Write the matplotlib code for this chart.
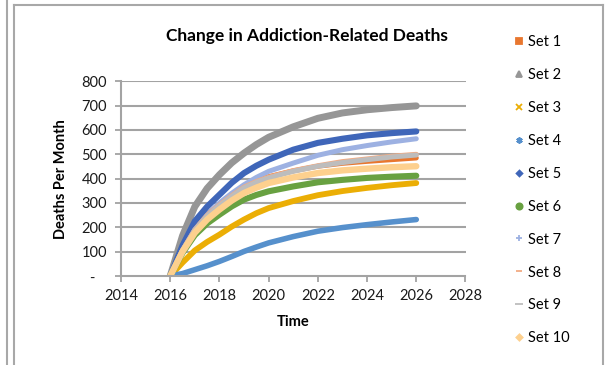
import matplotlib
matplotlib.use("Agg")
import matplotlib.pyplot as plt
from matplotlib.lines import Line2D

plt.rcParams["font.family"] = ["Lato", "DejaVu Sans"]

# Time axis (years) and monthly death estimates for each scenario
years = [2016, 2016.5, 2017, 2017.5, 2018, 2018.5, 2019, 2019.5, 2020,
         2021, 2022, 2023, 2024, 2025, 2026]

set_1 = [0, 108, 193, 252, 296, 335, 368, 390, 408, 432, 451, 463, 471, 478, 485]
set_2 = [0, 165, 285, 360, 416, 465, 505, 540, 570, 613, 648, 670, 683, 692, 699]
set_3 = [0, 55, 105, 140, 170, 203, 232, 258, 279, 308, 332, 349, 362, 373, 382]
set_4 = [0, 10, 26, 42, 60, 80, 101, 119, 136, 162, 184, 199, 211, 222, 232]
set_5 = [0, 125, 225, 285, 334, 383, 423, 453, 478, 519, 547, 564, 578, 587, 594]
set_6 = [0, 95, 168, 216, 252, 286, 314, 333, 348, 368, 385, 395, 403, 408, 412]
set_7 = [0, 105, 190, 250, 300, 340, 375, 405, 430, 464, 496, 519, 536, 551, 564]
set_8 = [0, 106, 190, 248, 292, 330, 365, 388, 406, 433, 453, 470, 481, 492, 500]
set_9 = [0, 104, 188, 246, 289, 327, 362, 385, 403, 430, 451, 466, 478, 489, 497]
set_10 = [0, 100, 178, 232, 273, 310, 341, 363, 382, 405, 423, 434, 441, 447, 451]

series_names = ["Set 1", "Set 2", "Set 3", "Set 4", "Set 5",
                "Set 6", "Set 7", "Set 8", "Set 9", "Set 10"]
series_values = [set_1, set_2, set_3, set_4, set_5,
                 set_6, set_7, set_8, set_9, set_10]

x_ticks = [2014, 2016, 2018, 2020, 2022, 2024, 2026, 2028]
y_ticks = [0, 100, 200, 300, 400, 500, 600, 700, 800]
y_tick_labels = ["-   ", "100", "200", "300", "400", "500", "600", "700", "800"]

# Per-series styling: colour, band width, legend marker, legend marker size
styles = [
    ("#E8772F", 3.6, "s", 4.5),
    ("#969696", 5.0, "^", 4.5),
    ("#EBAE05", 4.2, "x", 4),
    ("#5690CC", 4.0, (6, 2, 0), 4.5),
    ("#3F66B9", 4.4, "D", 3),
    ("#68A141", 4.4, "o", 4.5),
    ("#9DB1E2", 3.6, "+", 5),
    ("#F2AB83", 3.6, "_", 4.5),
    ("#BDBDBD", 3.6, "_", 6),
    ("#FDD08E", 4.6, "D", 3.2),
]

fig = plt.figure(figsize=(6.09, 3.65), dpi=100)
ax = fig.add_axes([121 / 609, 1 - 276 / 365, (465.5 - 121) / 609, (276 - 81.3) / 365])

grid_color = "#A3A3A3"
for yv in y_ticks[1:]:
    ax.axhline(yv, color=grid_color, lw=1.5, zorder=1)

handles = []
for name, vals, (col, lw, mk, ms) in zip(series_names, series_values, styles):
    ax.plot(years, vals, color=col, lw=lw, solid_capstyle="round",
            solid_joinstyle="round", zorder=2)
    handles.append(Line2D([], [], linestyle="none", marker=mk, markersize=ms,
                          color=col, markeredgecolor=col, markeredgewidth=1.3))

ax.set_xlim(2014, 2028)
ax.set_ylim(0, 800)
ax.set_xticks(x_ticks)
ax.set_yticks(y_ticks)
ax.set_yticklabels(y_tick_labels)

for side in ("top", "right"):
    ax.spines[side].set_visible(False)
for side in ("left", "bottom"):
    ax.spines[side].set_color(grid_color)
    ax.spines[side].set_linewidth(1.5)
ax.tick_params(axis="both", colors=grid_color, width=1.3, length=4,
               labelcolor="#1a1a1a", labelsize=10.5)
ax.tick_params(axis="y", pad=6)
ax.tick_params(axis="x", pad=5)

ax.set_xlabel("Time", fontsize=10.5, fontweight="bold", labelpad=9)
ax.set_ylabel("Deaths Per Month", fontsize=10.5, fontweight="bold", labelpad=10)
fig.text(307 / 609, 1 - 36 / 365, "Change in Addiction-Related Deaths",
         ha="center", va="center", fontsize=12.5, fontweight="bold")

fig.legend(handles, series_names, loc="upper left",
           bbox_to_anchor=(509 / 609, 1 - 29 / 365), frameon=False,
           fontsize=10.5, labelspacing=1.30, handlelength=0.6,
           handletextpad=0.3, borderaxespad=0)

# Outer frame lines
frame_col = "#A8A8A8"
fig.add_artist(Line2D([6.5 / 609, 6.5 / 609], [0, 1], color=frame_col, lw=1.5))
fig.add_artist(Line2D([13.5 / 609, 13.5 / 609], [0, 1 - 5 / 365], color=frame_col, lw=1.5))
fig.add_artist(Line2D([13.5 / 609, 603 / 609], [1 - 5 / 365, 1 - 5 / 365], color=frame_col, lw=1.5))
fig.add_artist(Line2D([603 / 609, 603 / 609], [0, 1 - 5 / 365], color=frame_col, lw=1.5))

fig.savefig("out.png", dpi=100)
